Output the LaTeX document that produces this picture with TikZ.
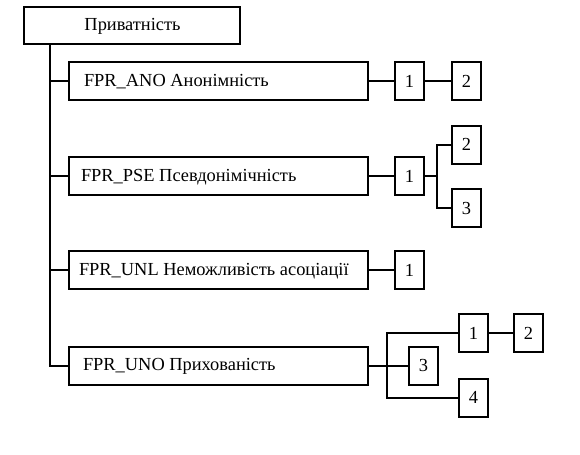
\documentclass[tikz,border=0pt]{standalone}
\usepackage{fontspec}
\setmainfont{Liberation Serif}
\begin{document}
\begin{tikzpicture}[x=0.75pt,y=-0.75pt,
  line width=1.5pt,
  every node/.style={font=\fontsize{13.8pt}{15pt}\selectfont},
  rootbox/.style={draw,minimum width=162pt,minimum height=27.75pt,inner sep=0pt},
  classbox/.style={draw,minimum width=224.25pt,minimum height=28.5pt,inner sep=0pt},
  classlabel/.style={anchor=west,inner sep=0pt},
  numbox/.style={draw,minimum width=21.75pt,minimum height=28.5pt,inner sep=0pt}]
\useasboundingbox (0,0) rectangle (580,454);

% root
\node[rootbox] (top) at (132,25.5) {};
\node[inner sep=0pt] (toplabel) at (132.5,26) {Приватність};

% families
\node[classbox] (ano) at (218.5,81)  {};
\node[classbox] (pse) at (218.5,176) {};
\node[classbox] (unl) at (218.5,270) {};
\node[classbox] (uno) at (218.5,365.5) {};
\node[classlabel] (anolabel) at (83,82)  {FPR\_ANO Анонімність};
\node[classlabel] (pselabel) at (80,177) {FPR\_PSE Псевдонімічність};
\node[classlabel] (unllabel) at (78,271) {FPR\_UNL Неможливість асоціації};
\node[classlabel] (unolabel) at (82,366.5) {FPR\_UNO Прихованість};

% components of FPR_ANO
\node[numbox] (a1) at (409.5,81) {1};
\node[numbox] (a2) at (466.5,81) {2};

% components of FPR_PSE
\node[numbox] (p1) at (409.5,176) {1};
\node[numbox] (p2) at (466.5,144.5) {2};
\node[numbox] (p3) at (466.5,208) {3};

% components of FPR_UNL
\node[numbox] (n1) at (409.5,270) {1};

% components of FPR_UNO
\node[numbox] (u3) at (423.5,365.5) {3};
\node[numbox] (u1) at (473.5,333) {1};
\node[numbox] (u2) at (528.5,333) {2};
\node[numbox] (u4) at (473.5,397.5) {4};

% trunk
\coordinate (t0) at (50,44);
\draw (t0) |- (uno.west);
\draw (t0 |- ano.west) -- (ano.west);
\draw (t0 |- pse.west) -- (pse.west);
\draw (t0 |- unl.west) -- (unl.west);

% links
\draw (ano.east) -- (a1.west);
\draw (a1.east) -- (a2.west);

\coordinate (bp) at (437,176);
\draw (pse.east) -- (p1.west);
\draw (p1.east) -- (bp);
\draw (p2.west) -| (bp) |- (p3.west);

\draw (unl.east) -- (n1.west);

\coordinate (bu) at (387,365.5);
\draw (uno.east) -- (u3.west);
\draw (u1.west) -| (bu) |- (u4.west);
\draw (u1.east) -- (u2.west);
\end{tikzpicture}
\end{document}
